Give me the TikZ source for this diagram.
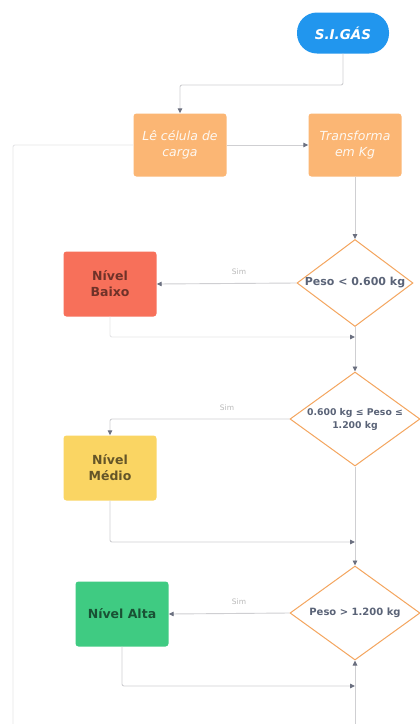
\documentclass[tikz,border=0pt]{standalone}
\usepackage{fontspec}
\setmainfont{DejaVu Sans}
\usetikzlibrary{arrows.meta,shapes.geometric}
\definecolor{sblue}{HTML}{2196EE}
\definecolor{sorange}{HTML}{FBB674}
\definecolor{dborder}{HTML}{F4A55E}
\definecolor{dtext}{HTML}{5A6377}
\definecolor{lgray}{HTML}{CFCFD2}
\definecolor{fgray}{HTML}{E6E6E8}
\definecolor{tipgray}{HTML}{6B7080}
\definecolor{redbox}{HTML}{F7705A}
\definecolor{yelbox}{HTML}{FAD563}
\definecolor{grnbox}{HTML}{3FCB82}
\tikzset{
  conn/.style={draw=lgray, line width=0.9pt, rounded corners=2pt},
  faint/.style={draw=fgray, line width=0.9pt, rounded corners=2pt},
  arr/.style={-{Triangle[length=5pt,width=4.5pt,color=tipgray]}},
  procbox/.style={rectangle, rounded corners=3pt, fill=sorange, minimum width=93pt, minimum height=63pt, align=center, text=white!90!sorange, font=\itshape\fontsize{12.5}{16}\selectfont, inner sep=1pt},
  levelbox/.style={rectangle, rounded corners=3pt, minimum width=93pt, minimum height=65pt, align=center, font=\bfseries\fontsize{12.5}{16}\selectfont, inner sep=2pt},
  decision/.style={diamond, draw=dborder, line width=1pt, fill=white, inner sep=0pt},
  dlabel/.style={align=center, text=dtext, inner sep=0pt, font=\bfseries\fontsize{#1}{13}\selectfont},
  simlabel/.style={font=\fontsize{7.5}{9}\selectfont, text=gray!55}
}
\begin{document}
\begin{tikzpicture}[x=1pt,y=-1pt]
\useasboundingbox[fill=white] (0,0) rectangle (420,724);
% nodes
\node[rectangle, rounded corners=20pt, fill=sblue, minimum width=92pt, minimum height=41pt, text=white, font=\bfseries\itshape\fontsize{13.5}{16}\selectfont] (sigas) at (343,33) {S.I.GÁS};
\node[procbox] (le) at (180,145) {Lê célula de\\carga};
\node[procbox] (tr) at (355,145) {Transforma\\em Kg};
\node[decision, minimum width=116pt, minimum height=87pt] (d1) at (355,283) {};
\node[dlabel=11] (d1t) at (d1.center) {Peso < 0.600 kg};
\node[levelbox, fill=redbox, text=redbox!45!black] (baixo) at (110,284) {Nível\\Baixo};
\node[decision, minimum width=130pt, minimum height=94pt] (d2) at (355,419) {};
\node[dlabel=9.3] (d2t) at (d2.center) {0.600 kg ≤ Peso ≤\\1.200 kg};
\node[levelbox, fill=yelbox, text=yelbox!40!black] (medio) at (110,468) {Nível\\Médio};
\node[decision, minimum width=130pt, minimum height=94pt] (d3) at (355,613) {};
\node[dlabel=10] (d3t) at (d3.center) {Peso > 1.200 kg};
\node[levelbox, fill=grnbox, text=grnbox!40!black] (alta) at (122,614) {Nível Alta};
% coordinates
\coordinate (c1) at (343,85);
\coordinate (lft) at (13,145);
\coordinate (lftb) at (13,724);
\coordinate (j1) at (355,337);
\coordinate (j2) at (355,542);
\coordinate (j3) at (355,686);
\coordinate (bot) at (355,724);
\coordinate (c2) at (110,419);
% connectors
\draw[conn,arr] (sigas.south) -- (c1) -| (le.north);
\draw[conn,arr] (le.east) -- (tr.west);
\draw[faint] (le.west) -- (lft) -- (lftb);
\draw[conn,arr] (tr.south) -- (d1.north);
\draw[conn,arr] (d1.west) -- (baixo.east);
\node[simlabel] (s1) at (239,272) {Sim};
\draw[conn,arr] (d1.south) -- (d2.north);
\draw[faint,arr] (baixo.south) |- (j1);
\draw[conn,arr] (d2.west) -- (c2) -- (medio.north);
\node[simlabel] (s2) at (227,408) {Sim};
\draw[conn,arr] (d2.south) -- (d3.north);
\draw[conn,arr] (medio.south) |- (j2);
\draw[conn,arr] (d3.west) -- (alta.east);
\node[simlabel] (s3) at (239,602) {Sim};
\draw[conn,arr] (alta.south) |- (j3);
\draw[conn,arr] (bot) -- (d3.south);
\end{tikzpicture}
\end{document}
